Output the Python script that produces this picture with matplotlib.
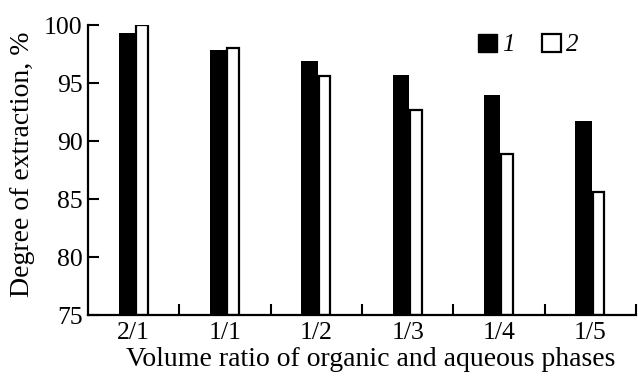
import matplotlib
matplotlib.use("Agg")
import matplotlib.pyplot as plt
import numpy as np
from matplotlib.patches import Patch

plt.rcParams["font.family"] = ["Liberation Serif", "DejaVu Serif"]

categories = ["2/1", "1/1", "1/2", "1/3", "1/4", "1/5"]
series1 = [99.3, 97.85, 96.9, 95.7, 94.0, 91.7]
series2 = [100.0, 98.0, 95.6, 92.7, 88.85, 85.6]

fig = plt.figure(figsize=(6.38, 3.77), dpi=100)
ax = fig.add_axes([88 / 638, 62 / 377, 548 / 638, 290 / 377])

x = np.arange(len(categories))
ax.bar(x - 0.075, np.array(series1) - 75, width=0.18, bottom=75,
       color="black", edgecolor="black", linewidth=0)
ax.bar(x + 0.09, np.array(series2) - 75, width=0.13, bottom=75,
       color="white", edgecolor="black", linewidth=1.6)

ax.set_xlim(-0.5, 5.5)
ax.set_ylim(75, 100)
ax.set_yticks([75, 80, 85, 90, 95, 100])

# boundary ticks between groups, labels at group centres
ax.set_xticks(np.arange(0.5, 6.0, 1.0))
ax.set_xticklabels([])
ax.set_xticks(x, minor=True)
ax.set_xticklabels(categories, minor=True)
ax.tick_params(axis="x", which="major", direction="in", length=8, width=1.5)
ax.tick_params(axis="x", which="minor", length=0, pad=5, labelsize=18.5)
ax.tick_params(axis="y", direction="in", length=8, width=1.5, pad=4, labelsize=18.5)

for s in ["top", "right"]:
    ax.spines[s].set_visible(False)
for s in ["left", "bottom"]:
    ax.spines[s].set_linewidth(1.6)

ax.set_xlabel("Volume ratio of organic and aqueous phases", fontsize=20)
ax.set_ylabel("Degree of extraction, %", fontsize=20)
ax.xaxis.set_label_coords(0.515, -0.11)
ax.yaxis.set_label_coords(-0.097, 0.52)

handles = [Patch(facecolor="black", edgecolor="black", label="1"),
           Patch(facecolor="white", edgecolor="black", linewidth=1.6, label="2")]
ax.legend(handles=handles, loc="center", bbox_to_anchor=(528 / 638, 1 - 45 / 377),
          bbox_transform=fig.transFigure, ncol=2, frameon=False,
          handlelength=0.75, handleheight=0.75, handletextpad=0.2, columnspacing=1.1,
          prop={"style": "italic", "size": 18})

fig.savefig("out.png", dpi=100)
